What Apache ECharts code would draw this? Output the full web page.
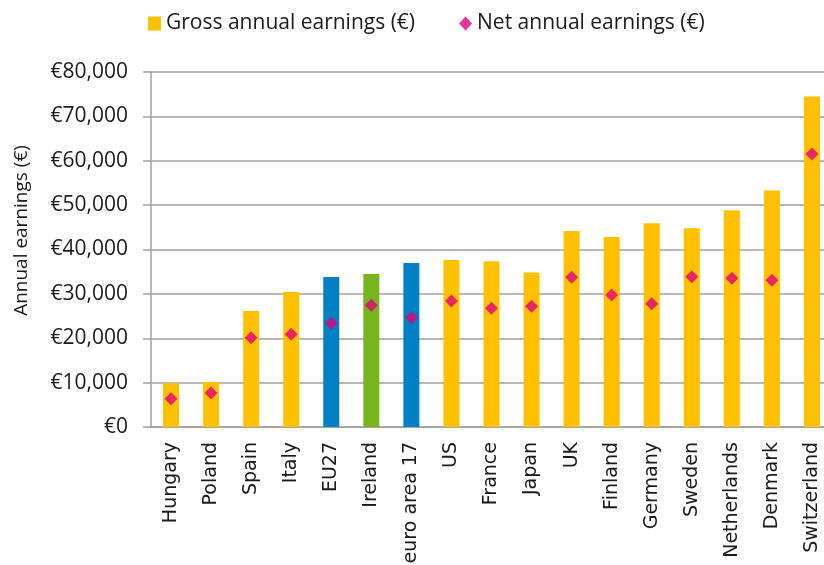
<!DOCTYPE html>
<html>
<head>
<meta charset="utf-8">
<script src="https://cdn.jsdelivr.net/npm/echarts@6/dist/echarts.min.js"></script>
<style>
  html, body { margin: 0; padding: 0; background: #fff; }
  #chart { width: 824px; height: 565px; }
</style>
</head>
<body>
<div id="chart"></div>
<script>
const categories = ['Hungary', 'Poland', 'Spain', 'Italy', 'EU27', 'Ireland', 'euro area 17', 'US', 'France',
  'Japan', 'UK', 'Finland', 'Germany', 'Sweden', 'Netherlands', 'Denmark', 'Switzerland']
const gross = [9840, 10140, 26150, 30430, 33810, 34490, 36970, 37640, 37340,
  34790, 44180, 42820, 45910, 44780, 48840, 53270, 74460]
const net = [6390, 7660, 20130, 20890, 23370, 27420, 24640, 28400, 26750,
  27200, 33730, 29750, 27800, 33880, 33510, 33060, 61530]
const aggregates = ['EU27', 'euro area 17']
const highlighted = ['Ireland']

const ORANGE = '#ffc000'
const BLUE = '#0080c6'
const GREEN = '#78b41e'
const PINK = '#e2007a'
const GRID = '#a0a0a0'
const TEXT = '#1a1a1a'

function barColor(name) {
  if (aggregates.includes(name)) return BLUE
  if (highlighted.includes(name)) return GREEN
  return ORANGE
}

const chart = echarts.init(document.getElementById('chart'))
chart.setOption({
  animation: false,
  legend: {
    top: 8,
    left: 143,
    itemGap: 44,
    itemWidth: 13,
    itemHeight: 14,
    textStyle: { fontFamily: 'Open Sans', fontSize: 21, color: TEXT },
    data: [
      { name: 'Gross annual earnings (€)', icon: 'rect', itemStyle: { color: ORANGE } },
      { name: 'Net annual earnings (€)', icon: 'diamond', itemStyle: { color: PINK } },
    ],
  },
  grid: { left: 151, top: 72, width: 681, height: 355, outerBoundsMode: 'none' },
  xAxis: {
    type: 'category',
    data: categories,
    axisLine: { lineStyle: { color: GRID, width: 1.5 } },
    axisTick: { show: false },
    axisLabel: {
      rotate: 90,
      margin: 15,
      interval: 0,
      fontFamily: 'DejaVu Sans',
      fontSize: 19,
      color: TEXT,
    },
  },
  yAxis: {
    type: 'value',
    min: 0,
    max: 80000,
    interval: 10000,
    name: 'Annual earnings (€)',
    nameLocation: 'middle',
    nameGap: 120,
    nameTextStyle: { fontFamily: 'Open Sans', fontSize: 19, color: TEXT, padding: [0, 0, 0, 38] },
    axisLine: { show: true, lineStyle: { color: GRID, width: 1.5 } },
    axisTick: { show: true, inside: false, length: 8, lineStyle: { color: GRID, width: 1.5 } },
    axisLabel: {
      margin: 23,
      fontFamily: 'Open Sans',
      fontSize: 21,
      color: TEXT,
      formatter: (v) => '€' + v.toLocaleString('en-US'),
    },
    splitLine: { lineStyle: { color: GRID, width: 1.5 } },
  },
  series: [
    {
      name: 'Gross annual earnings (€)',
      type: 'bar',
      barWidth: 16,
      data: gross.map((v, i) => ({ value: v, itemStyle: { color: barColor(categories[i]) } })),
      itemStyle: { color: ORANGE },
    },
    {
      name: 'Net annual earnings (€)',
      type: 'scatter',
      symbol: 'diamond',
      symbolSize: 13,
      data: net,
      itemStyle: { color: PINK },
      z: 5,
    },
  ],
})
</script>
</body>
</html>
